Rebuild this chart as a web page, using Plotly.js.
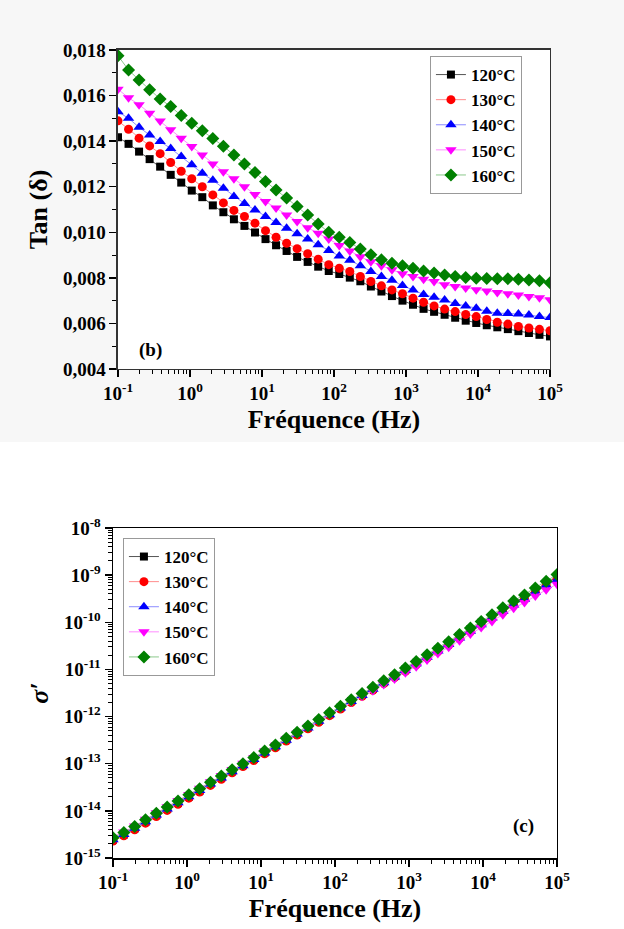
<!DOCTYPE html>
<html>
<head>
<meta charset="utf-8">
<script src="https://cdn.plot.ly/plotly-3.0.1.min.js"></script>
<style>html,body{margin:0;padding:0;background:#fff;}#chart{width:624px;height:929px;}</style>
</head>
<body>
<div id="chart"></div>
<script>
// Frequencies (Hz)
const freq = [0.1, 0.1401, 0.1962, 0.2749, 0.3850, 0.5393, 0.7555, 1.058, 1.482, 2.076,
  2.908, 4.073, 5.705, 7.990, 11.19, 15.68, 21.96, 30.75, 43.08, 60.34,
  84.52, 118.4, 165.8, 232.2, 325.3, 455.6, 638.2, 893.9, 1252, 1754,
  2456, 3440, 4819, 6750, 9454, 13242, 18548, 25980, 36390, 50970,
  71390, 100000];

const labels = ['120°C', '130°C', '140°C', '150°C', '160°C'];

// Tan(delta) values
const tan120 = [0.01417, 0.01388, 0.01354, 0.01321, 0.01288, 0.01252, 0.01218, 0.01183, 0.01154, 0.01118,
  0.01088, 0.01057, 0.01028, 0.00999, 0.00970, 0.00943, 0.00918, 0.00892, 0.00870, 0.00849,
  0.00830, 0.00817, 0.00801, 0.00785, 0.00762, 0.00740, 0.00720, 0.00700, 0.00682, 0.00664,
  0.00651, 0.00638, 0.00625, 0.00612, 0.00602, 0.00592, 0.00583, 0.00575, 0.00566, 0.00558,
  0.00550, 0.00543];
const tan130 = [0.01489, 0.01452, 0.01413, 0.01379, 0.01345, 0.01306, 0.01268, 0.01235, 0.01200, 0.01164,
  0.01129, 0.01096, 0.01069, 0.01040, 0.01007, 0.00978, 0.00952, 0.00928, 0.00906, 0.00882,
  0.00858, 0.00842, 0.00828, 0.00806, 0.00784, 0.00765, 0.00747, 0.00730, 0.00711, 0.00693,
  0.00677, 0.00663, 0.00652, 0.00639, 0.00630, 0.00617, 0.00605, 0.00597, 0.00587, 0.00580,
  0.00574, 0.00568];
const tan140 = [0.01529, 0.01500, 0.01461, 0.01427, 0.01398, 0.01368, 0.01332, 0.01296, 0.01259, 0.01228,
  0.01193, 0.01157, 0.01126, 0.01098, 0.01069, 0.01043, 0.01018, 0.00993, 0.00970, 0.00945,
  0.00920, 0.00896, 0.00877, 0.00853, 0.00828, 0.00806, 0.00789, 0.00766, 0.00747, 0.00727,
  0.00715, 0.00703, 0.00687, 0.00677, 0.00667, 0.00653, 0.00645, 0.00644, 0.00641, 0.00637,
  0.00630, 0.00626];
const tan150 = [0.01628, 0.01590, 0.01560, 0.01522, 0.01488, 0.01450, 0.01413, 0.01376, 0.01339, 0.01300,
  0.01266, 0.01235, 0.01200, 0.01166, 0.01135, 0.01106, 0.01076, 0.01047, 0.01020, 0.00996,
  0.00970, 0.00942, 0.00918, 0.00893, 0.00871, 0.00853, 0.00835, 0.00818, 0.00806, 0.00794,
  0.00784, 0.00770, 0.00762, 0.00755, 0.00748, 0.00742, 0.00736, 0.00730, 0.00725, 0.00718,
  0.00713, 0.00704];
const tan160 = [0.01775, 0.01712, 0.01668, 0.01625, 0.01585, 0.01552, 0.01512, 0.01479, 0.01446, 0.01411,
  0.01378, 0.01339, 0.01300, 0.01262, 0.01223, 0.01185, 0.01150, 0.01113, 0.01076, 0.01036,
  0.01000, 0.00978, 0.00955, 0.00927, 0.00901, 0.00879, 0.00864, 0.00853, 0.00842, 0.00830,
  0.00821, 0.00813, 0.00806, 0.00802, 0.00798, 0.00797, 0.00796, 0.00796, 0.00794, 0.00791,
  0.00787, 0.00779];

// sigma' values, stored as log10(sigma')
const logSig120 = [-14.61, -14.50, -14.37, -14.23, -14.09, -13.96, -13.83, -13.70, -13.57, -13.42,
  -13.29, -13.16, -13.03, -12.90, -12.76, -12.63, -12.49, -12.36, -12.23, -12.09,
  -11.95, -11.81, -11.67, -11.54, -11.41, -11.27, -11.14, -11.00, -10.86, -10.72,
  -10.58, -10.44, -10.29, -10.15, -10.01, -9.87, -9.73, -9.59, -9.46, -9.31,
  -9.17, -9.03];
const logSig130 = [-14.64, -14.53, -14.40, -14.26, -14.12, -13.99, -13.86, -13.73, -13.60, -13.46,
  -13.33, -13.19, -13.06, -12.93, -12.79, -12.66, -12.52, -12.39, -12.26, -12.12,
  -11.98, -11.84, -11.70, -11.57, -11.44, -11.30, -11.17, -11.04, -10.90, -10.76,
  -10.62, -10.48, -10.34, -10.20, -10.06, -9.92, -9.78, -9.64, -9.51, -9.36,
  -9.22, -9.085];
const logSig140 = [-14.61, -14.50, -14.37, -14.23, -14.09, -13.96, -13.83, -13.70, -13.57, -13.43,
  -13.30, -13.17, -13.04, -12.91, -12.77, -12.64, -12.50, -12.37, -12.24, -12.10,
  -11.96, -11.82, -11.68, -11.55, -11.42, -11.28, -11.16, -11.02, -10.88, -10.74,
  -10.61, -10.47, -10.33, -10.19, -10.05, -9.91, -9.77, -9.63, -9.51, -9.36,
  -9.22, -9.095];
const logSig150 = [-14.56, -14.45, -14.32, -14.18, -14.04, -13.91, -13.78, -13.65, -13.52, -13.38,
  -13.25, -13.12, -12.99, -12.87, -12.73, -12.61, -12.47, -12.35, -12.22, -12.09,
  -11.95, -11.82, -11.69, -11.57, -11.45, -11.32, -11.20, -11.07, -10.94, -10.80,
  -10.66, -10.53, -10.39, -10.25, -10.11, -9.98, -9.84, -9.70, -9.58, -9.44,
  -9.31, -9.19];
const logSig160 = [-14.57, -14.46, -14.33, -14.19, -14.05, -13.92, -13.79, -13.66, -13.53, -13.39,
  -13.26, -13.13, -13.00, -12.87, -12.73, -12.60, -12.46, -12.33, -12.20, -12.06,
  -11.92, -11.78, -11.64, -11.51, -11.38, -11.24, -11.11, -10.97, -10.83, -10.69,
  -10.55, -10.41, -10.26, -10.12, -9.98, -9.84, -9.69, -9.55, -9.42, -9.27,
  -9.13, -8.985];

const tanSeries = [tan120, tan130, tan140, tan150, tan160];
const sigSeries = [logSig120, logSig130, logSig140, logSig150, logSig160].map(a => a.map(v => Math.pow(10, v)));

// styles
const markerColors = ['#000000', '#ff0000', '#0000ff', '#ff00ff', '#008000'];
const lineColors = ['#555555', '#ff8c8c', '#8c8cff', '#ff8cff', '#8cc88c'];
const symbols = ['square', 'circle', 'triangle-up', 'triangle-down', 'diamond'];
const sizes = [8, 9, 10, 10, 10];

const FAM = '"Liberation Serif", "Times New Roman", Times, serif';

const traces = [];
for (let k = 0; k < 5; k++) {
  traces.push({
    x: freq, y: tanSeries[k], name: labels[k], type: 'scatter', mode: 'lines+markers',
    xaxis: 'x', yaxis: 'y', legend: 'legend',
    line: {color: lineColors[k], width: 1},
    marker: {symbol: symbols[k], size: sizes[k], color: markerColors[k], line: {width: 0}}
  });
}
for (let k = 0; k < 5; k++) {
  traces.push({
    x: freq, y: sigSeries[k], name: labels[k], type: 'scatter', mode: 'lines+markers',
    xaxis: 'x2', yaxis: 'y2', legend: 'legend2',
    line: {color: lineColors[k], width: 1},
    marker: {symbol: symbols[k], size: sizes[k], color: markerColors[k], line: {width: 0}}
  });
}

// axis decorations
const decX = [0.1, 1, 10, 100, 1000, 10000, 100000];
const decXText = ['10<sup>-1</sup>', '10<sup>0</sup>', '10<sup>1</sup>', '10<sup>2</sup>', '10<sup>3</sup>', '10<sup>4</sup>', '10<sup>5</sup>'];
const minorX = [];
for (let e = -1; e < 5; e++) for (let m = 2; m <= 9; m++) minorX.push(m * Math.pow(10, e));
const decY = [1e-15, 1e-14, 1e-13, 1e-12, 1e-11, 1e-10, 1e-9, 1e-8];
const decYText = ['10<sup>-15</sup>', '10<sup>-14</sup>', '10<sup>-13</sup>', '10<sup>-12</sup>', '10<sup>-11</sup>', '10<sup>-10</sup>', '10<sup>-9</sup>', '10<sup>-8</sup>'];
const minorY = [];
for (let e = -15; e < -8; e++) for (let m = 2; m <= 9; m++) minorY.push(m * Math.pow(10, e));

const tickFont = {family: FAM, size: 19, color: '#000', weight: 'bold'};
const titleFont = {family: FAM, size: 26, color: '#000', weight: 'bold'};
const legendFont = {family: FAM, size: 17, color: '#000', weight: 'bold'};

function baseAxis() {
  return {
    showgrid: false, zeroline: false, showline: true, linecolor: '#000', linewidth: 1.5,
    mirror: true, ticks: 'outside', ticklen: 7, tickwidth: 1.5, tickcolor: '#000',
    tickfont: tickFont
  };
}

const layout = {
  width: 624, height: 929,
  margin: {l: 0, r: 0, t: 0, b: 0},
  font: {family: FAM, color: '#000'},
  paper_bgcolor: '#ffffff', plot_bgcolor: '#ffffff',
  separators: ',.',
  showlegend: true,
  xaxis: Object.assign(baseAxis(), {
    domain: [0.1891, 0.8814], anchor: 'y', type: 'log', range: [-1, 5],
    tickmode: 'array', tickvals: decX, ticktext: decXText, linecolor: '#333',
    minor: {tickmode: 'array', tickvals: minorX, ticks: 'outside', ticklen: 4, tickwidth: 1, tickcolor: '#000', showgrid: false},
    title: {text: 'Fréquence (Hz)', font: titleFont, standoff: 6}
  }),
  yaxis: Object.assign(baseAxis(), {
    domain: [0.6028, 0.9462], anchor: 'x', range: [0.004, 0.018], linecolor: '#333',
    tickmode: 'linear', tick0: 0.004, dtick: 0.002, tickformat: '.3f',
    minor: {tickmode: 'linear', tick0: 0.004, dtick: 0.001, ticks: 'outside', ticklen: 4, tickwidth: 1, tickcolor: '#000', showgrid: false},
    title: {text: 'Tan (δ)', font: titleFont, standoff: 8}
  }),
  xaxis2: Object.assign(baseAxis(), {
    domain: [0.1811, 0.8926], anchor: 'y2', type: 'log', range: [-1, 5],
    tickmode: 'array', tickvals: decX, ticktext: decXText,
    minor: {tickmode: 'array', tickvals: minorX, ticks: 'outside', ticklen: 4, tickwidth: 1, tickcolor: '#000', showgrid: false},
    title: {text: 'Fréquence (Hz)', font: titleFont, standoff: 6}
  }),
  yaxis2: Object.assign(baseAxis(), {
    domain: [0.0764, 0.4316], anchor: 'x2', type: 'log', range: [-15, -8],
    tickmode: 'array', tickvals: decY, ticktext: decYText,
    minor: {tickmode: 'array', tickvals: minorY, ticks: 'outside', ticklen: 4, tickwidth: 1, tickcolor: '#000', showgrid: false},
    title: {text: '<i>σ′</i>', font: titleFont, standoff: 8}
  }),
  legend: {
    x: 0.689, y: 0.9397, xanchor: 'left', yanchor: 'top',
    bgcolor: '#ffffff', bordercolor: '#999999', borderwidth: 1,
    font: legendFont, tracegroupgap: 0
  },
  legend2: {
    x: 0.197, y: 0.4209, xanchor: 'left', yanchor: 'top',
    bgcolor: '#ffffff', bordercolor: '#999999', borderwidth: 1,
    font: legendFont, tracegroupgap: 0
  },
  annotations: [
    {text: '(b)', xref: 'paper', yref: 'paper', x: 0.2196, y: 0.6232, showarrow: false,
     font: {family: FAM, size: 19, color: '#000', weight: 'bold'}},
    {text: '(c)', xref: 'paper', yref: 'paper', x: 0.859, y: 0.0969, showarrow: false,
     font: {family: FAM, size: 19, color: '#000', weight: 'bold'}}
  ],
  shapes: [
    {type: 'path', xref: 'paper', yref: 'paper', layer: 'below', fillrule: 'evenodd',
     path: 'M0,0.5242 H1 V1 H0 Z M0.1891,0.6028 H0.8814 V0.9462 H0.1891 Z',
     fillcolor: '#f7f7f7', line: {width: 0}}
  ]
};

Plotly.newPlot('chart', traces, layout, {displayModeBar: false, staticPlot: true});
</script>
</body>
</html>
